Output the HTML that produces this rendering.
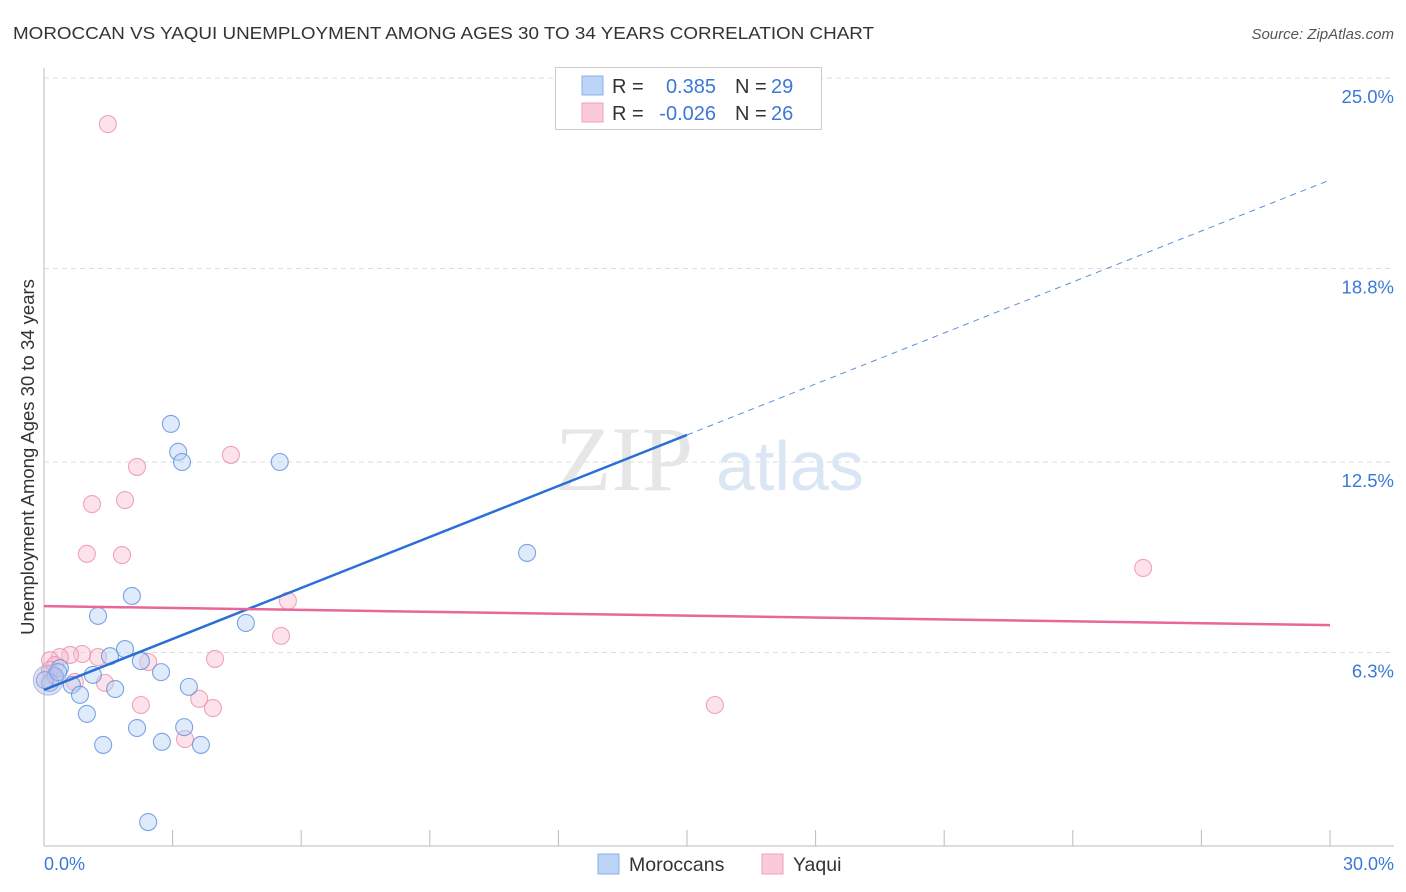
<!DOCTYPE html>
<html><head><meta charset="utf-8"><style>
body{margin:0;background:#fff;font-family:"Liberation Sans",sans-serif;}
svg{display:block}
</style></head><body>
<svg id="chart" width="1406" height="892" xmlns="http://www.w3.org/2000/svg" font-family="Liberation Sans, sans-serif">
<text x="13" y="39" font-size="17.5" fill="#333" textLength="861" lengthAdjust="spacingAndGlyphs">MOROCCAN VS YAQUI UNEMPLOYMENT AMONG AGES 30 TO 34 YEARS CORRELATION CHART</text>
<text x="1394" y="39" font-size="15" fill="#555" font-style="italic" text-anchor="end">Source: ZipAtlas.com</text>
<g id="grid"></g>
<text x="555" y="490" font-size="92" fill="#e6e6e6" font-family="Liberation Serif, serif">ZIP</text>
<text x="716" y="490" font-size="70" fill="#dbe6f5">atlas</text>
<line x1="44" y1="68" x2="44" y2="846" stroke="#bbb"/>
<line x1="44" y1="846" x2="1394" y2="846" stroke="#bbb"/>
<text transform="translate(34,457) rotate(-90)" font-size="18.5" fill="#333" text-anchor="middle">Unemployment Among Ages 30 to 34 years</text>
<text x="44" y="870" font-size="18" fill="#3b78d8">0.0%</text>
<text x="1394" y="870" font-size="18" fill="#3b78d8" text-anchor="end">30.0%</text>
<g id="marks"></g>
<g>
<rect x="555.5" y="67.5" width="266" height="62" fill="#fff" stroke="#ccc"/>
<rect x="582" y="76" width="21" height="19" fill="#bcd4f6" stroke="#8ab0e8"/>
<rect x="582" y="103" width="21" height="19" fill="#fbcad8" stroke="#f0a0b8"/>
<text x="612" y="93" font-size="20" fill="#333">R =</text><text x="716" y="93" font-size="20" fill="#3b78d8" text-anchor="end">0.385</text>
<text x="735" y="93" font-size="20" fill="#333">N =</text><text x="771" y="93" font-size="20" fill="#3b78d8">29</text>
<text x="612" y="120" font-size="20" fill="#333">R =</text><text x="716" y="120" font-size="20" fill="#3b78d8" text-anchor="end">-0.026</text>
<text x="735" y="120" font-size="20" fill="#333">N =</text><text x="771" y="120" font-size="20" fill="#3b78d8">26</text>
</g>
<g>
<rect x="598" y="854" width="21" height="20" fill="#bcd4f6" stroke="#8ab0e8"/>
<text x="629" y="871" font-size="19.5" fill="#333">Moroccans</text>
<rect x="762" y="854" width="21" height="20" fill="#fbcad8" stroke="#f0a0b8"/>
<text x="793" y="871" font-size="19.5" fill="#333">Yaqui</text>
</g>
</svg>
<script>
const yTicks=[25.0,18.8,12.5,6.3];
const yTickLabels=["25.0%","18.8%","12.5%","6.3%"];
const xTicks=[0,3,6,9,12,15,18,21,24,27,30];
const moroccanX=[2.96,3.13,3.22,5.5,11.27,2.05,1.26,4.71,1.89,1.54,2.26,2.73,1.14,0.37,0.26,0.65,0.84,1.66,3.38,1.0,2.17,3.27,1.38,2.75,3.66,2.43,0.14,0.02,0.33];
const moroccanY=[13.74,12.83,12.5,12.5,9.54,8.14,7.49,7.26,6.41,6.18,6.02,5.66,5.57,5.79,5.53,5.24,4.92,5.11,5.18,4.30,3.84,3.87,3.29,3.39,3.29,0.78,5.31,5.40,5.66];
const yaquiX=[1.49,4.36,2.17,1.89,1.12,1.0,1.82,25.64,5.69,5.53,3.99,1.26,0.89,0.61,0.37,0.14,2.43,0.26,1.42,0.72,2.26,3.62,3.94,15.65,3.29,0.14];
const yaquiY=[23.5,12.73,12.34,11.26,11.13,9.51,9.47,9.05,7.98,6.84,6.09,6.15,6.25,6.22,6.15,6.05,5.99,5.89,5.31,5.34,4.59,4.79,4.49,4.59,3.48,5.73];
const blueTrend=[5.08,21.68];
const pinkTrend=[7.81,7.19];
const blueSolidEnd=15;
const X=v=>44+v*(1286/30);
const Y=v=>846-v*30.72;
const NS="http://www.w3.org/2000/svg";
const grid=document.getElementById('grid'),marks=document.getElementById('marks');
function mk(tag,attrs,parent){const e=document.createElementNS(NS,tag);for(const k in attrs)e.setAttribute(k,attrs[k]);parent.appendChild(e);return e;}
yTicks.forEach((t,i)=>{
 const l=mk('line',{x1:44,x2:1394,y1:Y(t),y2:Y(t),stroke:'#ddd','stroke-dasharray':'5,4'},grid);
 
 
 const tx=mk('text',{x:1394,y:Y(t)+25,'font-size':18.5,fill:'#3b78d8','text-anchor':'end'},grid);
 tx.textContent=yTickLabels[i];
 
 
});
xTicks.forEach(t=>{
 const l=mk('line',{x1:X(t),x2:X(t),y1:830,y2:846,stroke:'#bbb'},grid);
 
 
});
function pts(xs,ys,fill,stroke,name){
 xs.forEach((x,i)=>{
  const c=mk('circle',{cx:X(x),cy:Y(ys[i]),r:8.5,fill:fill,'fill-opacity':0.45,stroke:stroke,'stroke-opacity':0.8,'stroke-width':1.1},marks);
  
  
 });
}
pts(yaquiX,yaquiY,'#f9bfd0','#ee8fac','yaqui-point');
pts(moroccanX,moroccanY,'#b8d1f5','#5b8fdc','moroccan-point');
const big=mk('circle',{cx:X(0.1),cy:Y(5.4),r:15,fill:'#b7b0dc','fill-opacity':0.4,stroke:'#8fa8e0','stroke-opacity':0.7},marks);


const slope=(blueTrend[1]-blueTrend[0])/30;
const b1=mk('line',{x1:X(0),y1:Y(blueTrend[0]),x2:X(blueSolidEnd),y2:Y(blueTrend[0]+slope*blueSolidEnd),stroke:'#2a6fd6','stroke-width':2.5},marks);


const b2=mk('line',{x1:X(blueSolidEnd),y1:Y(blueTrend[0]+slope*blueSolidEnd),x2:X(30),y2:Y(blueTrend[1]),stroke:'#5b8fdc','stroke-width':1,'stroke-dasharray':'6,5'},marks);


const p1=mk('line',{x1:X(0),y1:Y(pinkTrend[0]),x2:X(30),y2:Y(pinkTrend[1]),stroke:'#e8669a','stroke-width':2.5},marks);


</script>
</body></html>
